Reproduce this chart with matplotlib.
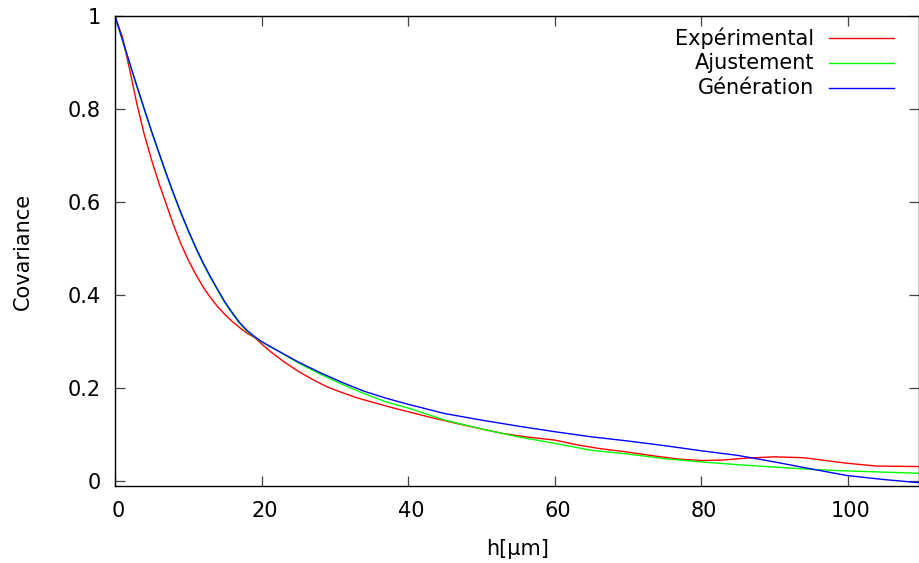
import matplotlib
matplotlib.use("Agg")
import matplotlib.pyplot as plt
from matplotlib.transforms import ScaledTranslation

# ---- data ----
exp_x = [0, 1, 2, 3, 4, 5, 6, 7, 8, 9, 10, 11, 12, 13, 14, 15, 16, 17, 18, 19, 20,
         21, 22, 23, 25, 27, 29, 31, 33, 35, 38, 40, 43, 46, 50, 53, 56, 60, 63, 66,
         70, 74, 77, 80, 83, 86, 90, 94, 97, 100, 104, 110]
exp_y = [1, 0.955, 0.885, 0.81, 0.745, 0.69, 0.64, 0.595, 0.55, 0.51, 0.475, 0.445,
         0.418, 0.395, 0.375, 0.358, 0.343, 0.33, 0.318, 0.309, 0.295,
         0.281, 0.269, 0.257, 0.236, 0.218, 0.202, 0.19, 0.179, 0.17, 0.157, 0.149,
         0.137, 0.126, 0.112, 0.102, 0.095, 0.088, 0.078, 0.07,
         0.062, 0.053, 0.047, 0.044, 0.045, 0.049, 0.052, 0.05, 0.044, 0.038, 0.032, 0.031]

fit_x = [0, 1, 2, 3, 4, 5, 6, 7, 8, 9, 10, 11, 12, 13, 14, 15, 16, 17, 18, 19, 20,
         22, 25, 28, 31, 34, 37, 40, 45, 50, 55, 60, 65, 70, 75, 80, 85, 90, 95,
         100, 105, 110]
fit_y = [1, 0.948, 0.897, 0.847, 0.798, 0.75, 0.704, 0.659, 0.616, 0.575, 0.537,
         0.501, 0.468, 0.438, 0.41, 0.383, 0.36, 0.339, 0.322, 0.31, 0.299,
         0.282, 0.254, 0.23, 0.208, 0.188, 0.17, 0.157, 0.131, 0.112, 0.095, 0.081,
         0.066, 0.058, 0.048, 0.041, 0.035, 0.03, 0.025, 0.0215, 0.019, 0.0165]

gen_x = [0, 1, 2, 3, 4, 5, 6, 7, 8, 9, 10, 11, 12, 13, 14, 15, 16, 17, 18, 19, 20,
         22, 25, 28, 31, 34, 37, 40, 45, 50, 55, 60, 65, 70, 75, 80, 85, 90, 95,
         100, 105, 110]
gen_y = [1, 0.95, 0.899, 0.849, 0.8, 0.752, 0.706, 0.661, 0.618, 0.577, 0.539,
         0.503, 0.47, 0.44, 0.412, 0.385, 0.362, 0.341, 0.324, 0.311, 0.3,
         0.282, 0.256, 0.233, 0.212, 0.193, 0.178, 0.165, 0.145, 0.131, 0.118, 0.106,
         0.095, 0.086, 0.076, 0.065, 0.055, 0.041, 0.026, 0.0115, 0.003, -0.004]

labels = ["Expérimental", "Ajustement", "Génération"]
colors = ["#ff0000", "#00ff00", "#0000ff"]
x_ticks = [0, 20, 40, 60, 80, 100]
y_ticks = [0, 0.2, 0.4, 0.6, 0.8, 1]
y_tick_labels = ["0", "0.2", "0.4", "0.6", "0.8", "1"]

plt.rcParams["font.family"] = ["DejaVu Sans"]
plt.rcParams["font.size"] = 15

fig = plt.figure(figsize=(9.2, 5.63), dpi=100)
ax = fig.add_axes([115 / 920, 77 / 563, 804.5 / 920, 470 / 563])

series = [(exp_x, exp_y), (fit_x, fit_y), (gen_x, gen_y)]
for (xs, ys), c in zip(series, colors):
    ax.plot(xs, ys, color=c, lw=1.0, clip_on=True)

ax.set_xlim(0, 109.8)
ax.set_ylim(-0.0108, 1)
ax.set_xticks(x_ticks)
ax.set_yticks(y_ticks)
ax.set_yticklabels(y_tick_labels)
ax.tick_params(direction="in", length=7, width=0.9, color="#444444",
               top=True, right=True, labelsize=15)
ax.tick_params(axis="y", pad=10)
ax.tick_params(axis="x", pad=11)
shift = ScaledTranslation(3 / 100, 0, fig.dpi_scale_trans)
for lbl in ax.get_xticklabels():
    lbl.set_transform(lbl.get_transform() + shift)
for s in ax.spines.values():
    s.set_linewidth(1.0)
    s.set_color("black")

ax.set_xlabel("h[µm]", fontsize=15, labelpad=13)
ax.set_ylabel("Covariance", fontsize=15, labelpad=25)

# key (gnuplot style: right-aligned text, sample line to the right)
rows = [0.953, 0.900, 0.847]
for lab, c, ry in zip(labels, colors, rows):
    ax.text(0.869, ry, lab, transform=ax.transAxes, ha="right", va="center",
            fontsize=15)
    ax.plot([0.8875, 0.968], [ry, ry], transform=ax.transAxes, color=c, lw=1.0,
            clip_on=False)

fig.savefig("out.png", dpi=100)
